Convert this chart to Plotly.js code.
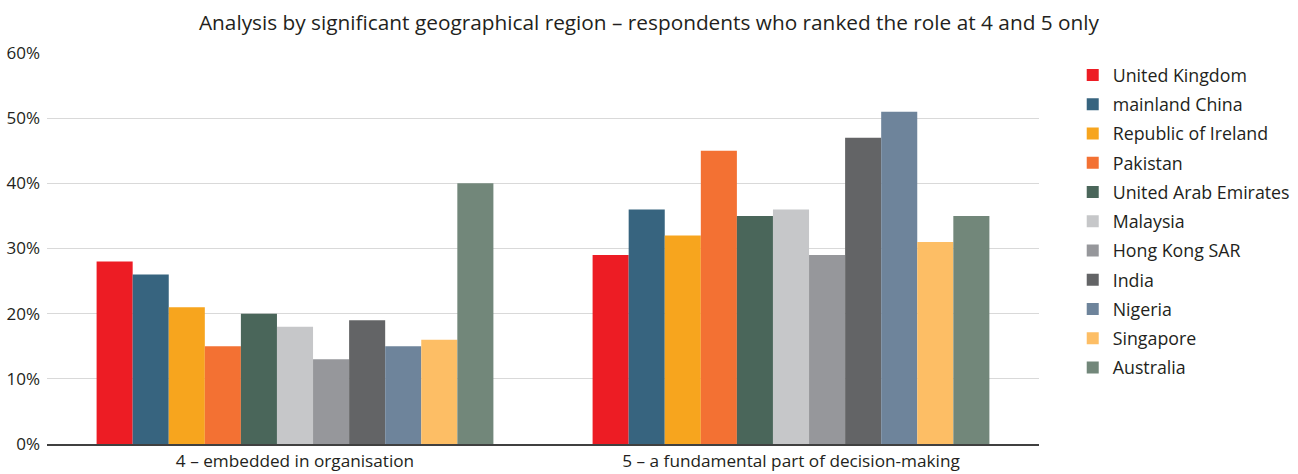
<!DOCTYPE html>
<html><head><meta charset="utf-8">
<script src="https://cdn.plot.ly/plotly-3.0.1.min.js"></script>
<style>html,body{margin:0;padding:0;background:#fff}</style>
</head><body><div id="chart" style="width:1298px;height:474px"></div>
<script>
const categories = ["4 – embedded in organisation", "5 – a fundamental part of decision-making"];
const countries = ["United Kingdom","mainland China","Republic of Ireland","Pakistan","United Arab Emirates","Malaysia","Hong Kong SAR","India","Nigeria","Singapore","Australia"];
const colors = ["#ED1C24","#37647F","#F7A51E","#F37133","#4A665A","#C6C7C9","#96979B","#636466","#6E849B","#FDBE65","#72877A"];
const unitedKingdom = [0.28, 0.29];
const mainlandChina = [0.26, 0.36];
const ireland = [0.21, 0.32];
const pakistan = [0.15, 0.45];
const uae = [0.20, 0.35];
const malaysia = [0.18, 0.36];
const hongKong = [0.13, 0.29];
const india = [0.19, 0.47];
const nigeria = [0.15, 0.51];
const singapore = [0.16, 0.31];
const australia = [0.40, 0.35];
const seriesValues = [unitedKingdom, mainlandChina, ireland, pakistan, uae, malaysia, hongKong, india, nigeria, singapore, australia];
const yTicks = [0, 0.1, 0.2, 0.3, 0.4, 0.5, 0.6];

const font = "'Open Sans', Lato, sans-serif";
const traces = countries.map((c, i) => ({
  type: "bar", name: c, x: categories, y: seriesValues[i],
  marker: {color: colors[i], line: {width: 0}},
  legendgroup: "g" + i, hoverinfo: "y+name"
}));

const layout = {
  width: 1298, height: 474,
  margin: {l: 47, r: 259, t: 53, b: 30, autoexpand: false},
  paper_bgcolor: "#fff", plot_bgcolor: "#fff",
  font: {family: font, color: "#231f20", size: 16},
  title: {text: "Analysis by significant geographical region – respondents who ranked the role at 4 and 5 only",
          x: 0.5, xref: "container", xanchor: "center", y: 0.953, yanchor: "middle",
          font: {size: 20.8, color: "#231f20", family: font}},
  barmode: "group", bargap: 0.2, bargroupgap: 0,
  xaxis: {showgrid: false, showline: true, linecolor: "#404040", linewidth: 2, ticks: "",
          tickfont: {size: 17.2}, zeroline: false},
  yaxis: {range: [0, 0.6], tickvals: yTicks, tickformat: ".0%", showgrid: true, gridcolor: "#d9d9d9",
          gridwidth: 1, zeroline: false, showline: false, ticks: "", tickfont: {size: 17}, ticklabelstandoff: 6},
  legend: {x: 1.034, xanchor: "left", y: 0.99, yanchor: "top", font: {size: 17.8}, tracegroupgap: 3.1,
           itemwidth: 30, bgcolor: "rgba(0,0,0,0)"},
  showlegend: true
};
Plotly.newPlot("chart", traces, layout, {displayModeBar: false, staticPlot: true});
</script></body></html>
